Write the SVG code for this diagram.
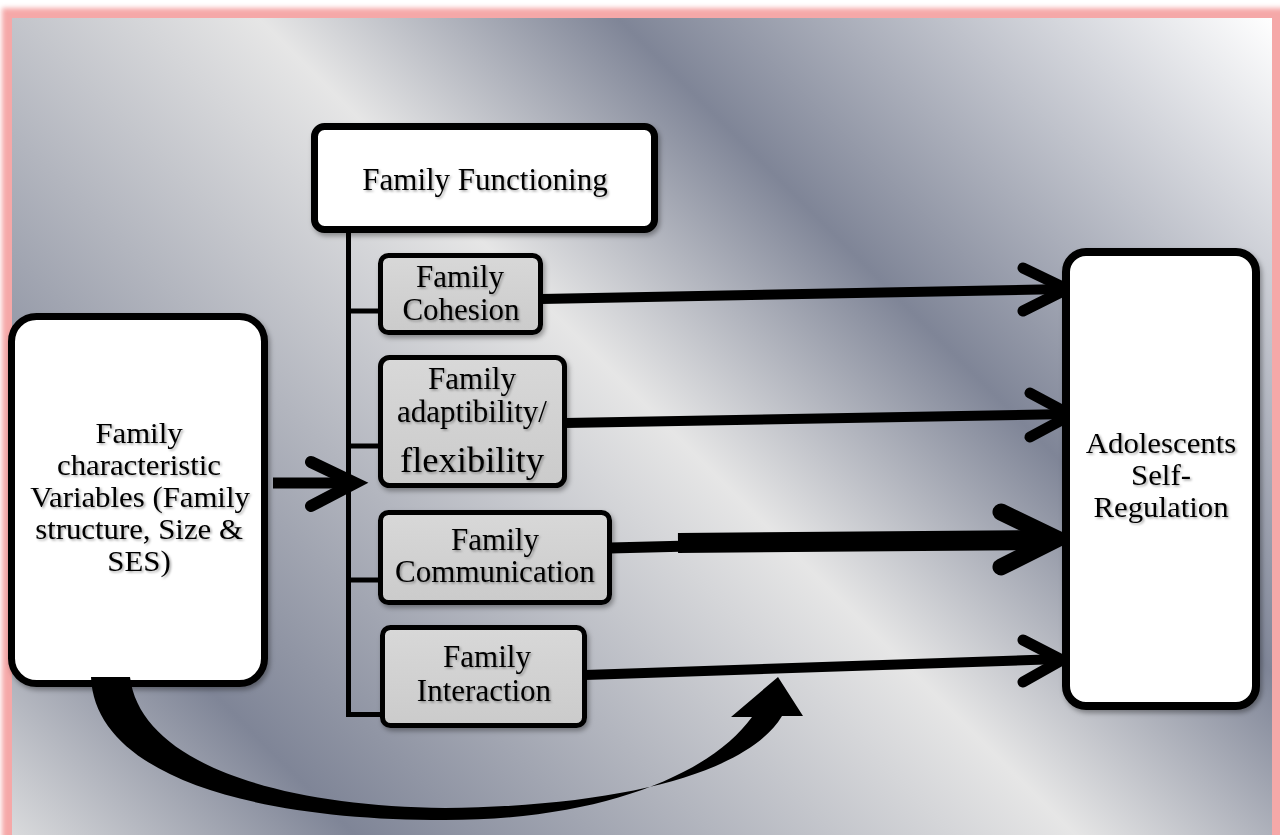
<svg xmlns="http://www.w3.org/2000/svg" width="1280" height="835" viewBox="0 0 1280 835">
<defs>
<linearGradient id="bg" gradientUnits="userSpaceOnUse" x1="100" y1="923" x2="1138.5" y2="-115.5">
<stop offset="0" stop-color="#d9dadc"/>
<stop offset="0.165" stop-color="#7f8597"/>
<stop offset="0.512" stop-color="#e6e6e6"/>
<stop offset="0.685" stop-color="#7f8597"/>
<stop offset="1" stop-color="#ffffff"/>
</linearGradient>
<linearGradient id="gbox" x1="0" y1="0" x2="0" y2="1">
<stop offset="0" stop-color="#d8d8d8"/>
<stop offset="1" stop-color="#cbcbcb"/>
</linearGradient>
<filter id="glow" x="-5%" y="-5%" width="110%" height="110%">
<feGaussianBlur stdDeviation="2.5"/>
</filter>
<filter id="sh" x="-10%" y="-10%" width="130%" height="130%">
<feDropShadow dx="2" dy="3" stdDeviation="2.5" flood-color="#000" flood-opacity="0.35"/>
</filter>
<filter id="ts" x="-10%" y="-30%" width="130%" height="170%">
<feDropShadow dx="1.5" dy="1.5" stdDeviation="1" flood-color="#000" flood-opacity="0.35"/>
</filter>
</defs>
<style>
.t{font-family:"Liberation Serif","Times New Roman",serif;font-size:31px;fill:#000;text-anchor:middle;filter:url(#ts)}
.s{font-size:28.5px}
.big{font-size:36.5px}
.wbox{fill:#fff;stroke:#000;filter:url(#sh)}
.gbox{fill:url(#gbox);stroke:#000;stroke-width:5;filter:url(#sh)}
.ln{stroke:#000;fill:none;stroke-linecap:butt}
.chev{stroke:#000;fill:none;stroke-linecap:round;stroke-linejoin:miter;stroke-miterlimit:10}
</style>

<rect x="0" y="0" width="1280" height="835" fill="#ffffff"/>
<rect x="2" y="8" width="1290" height="900" fill="#f5a8a8" filter="url(#glow)"/>
<rect x="12" y="18" width="1260" height="830" fill="url(#bg)"/>

<g id="connectors">
  <path class="ln" stroke-width="5" d="M348.5 233 V714.5 H382 M348.5 311 H380 M348.5 446 H380 M348.5 580 H380"/>
  <line class="ln" x1="273" y1="483" x2="345" y2="483" stroke-width="11"/>
  <polyline class="chev" points="311,462 355,483 311,506" stroke-width="12"/>
  <line class="ln" x1="541" y1="299" x2="1064" y2="289" stroke-width="10"/>
  <polyline class="chev" points="1023,268 1067,289 1023,311" stroke-width="11"/>
  <line class="ln" x1="565" y1="423" x2="1068" y2="414" stroke-width="10"/>
  <polyline class="chev" points="1030,393 1071,415 1030,437" stroke-width="11"/>
  <line class="ln" x1="610" y1="548" x2="690" y2="546" stroke-width="11"/>
  <line class="ln" x1="678" y1="543" x2="1045" y2="540" stroke-width="20"/>
  <polyline class="chev" points="1001,512 1057,539 1001,567" stroke-width="17"/>
  <line class="ln" x1="585" y1="675" x2="1060" y2="659" stroke-width="10"/>
  <polyline class="chev" points="1023,640 1062,660 1023,682" stroke-width="11"/>
</g>

<g id="n-functioning">
  <rect class="wbox" x="314.5" y="126.5" width="340" height="103" rx="10" stroke-width="7"/>
  <text class="t" x="485" y="190">Family Functioning</text>
</g>

<g id="n-characteristics">
  <rect class="wbox" x="11.5" y="316.5" width="253" height="367" rx="25" stroke-width="7"/>
  <text class="t s" transform="translate(139,443) scale(1.08,1)">Family</text>
  <text class="t s" transform="translate(139,475) scale(1.08,1)">characteristic</text>
  <text class="t s" transform="translate(140,507) scale(1.08,1)">Variables (Family</text>
  <text class="t s" transform="translate(139,539) scale(1.08,1)">structure, Size &amp;</text>
  <text class="t s" transform="translate(139,571) scale(1.08,1)">SES)</text>
</g>

<g id="n-cohesion">
  <rect class="gbox" x="380.5" y="255.5" width="160" height="77" rx="8"/>
  <text class="t" x="460" y="287">Family</text>
  <text class="t" x="461" y="320">Cohesion</text>
</g>

<g id="n-adaptability">
  <rect class="gbox" x="380.5" y="357.5" width="184" height="128" rx="9"/>
  <text class="t" x="472" y="389">Family</text>
  <text class="t" x="472" y="422">adaptibility/</text>
  <text class="t big" x="472" y="472">flexibility</text>
</g>

<g id="n-communication">
  <rect class="gbox" x="380.5" y="512.5" width="229" height="90" rx="8"/>
  <text class="t" x="495" y="550">Family</text>
  <text class="t" x="495" y="582">Communication</text>
</g>

<g id="n-interaction">
  <rect class="gbox" x="382.5" y="627.5" width="202" height="98" rx="8"/>
  <text class="t" x="487" y="667">Family</text>
  <text class="t" x="484" y="701">Interaction</text>
</g>

<g id="n-selfregulation">
  <rect class="wbox" x="1066" y="252" width="190" height="454" rx="20" stroke-width="8"/>
  <text class="t s" transform="translate(1161,453) scale(1.08,1)">Adolescents</text>
  <text class="t s" transform="translate(1161,485) scale(1.08,1)">Self-</text>
  <text class="t s" transform="translate(1161,517) scale(1.08,1)">Regulation</text>
</g>

<g id="curved-arrow">
  <path fill="#000" d="M91 677 C95 775 250 820 445 820 C600 820 710 775 752 717 L731 717 L778 677 L803 716 L782 716 C750 770 630 806 445 808 C270 806 140 760 130 677 Z"/>
</g>
</svg>
